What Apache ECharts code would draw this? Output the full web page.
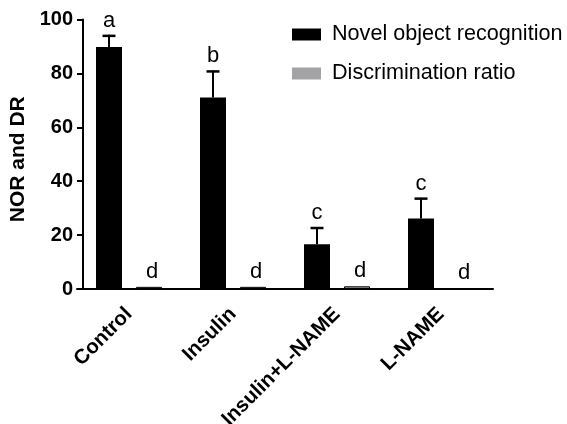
<!DOCTYPE html>
<html>
<head>
<meta charset="utf-8">
<script src="https://cdn.jsdelivr.net/npm/echarts@6/dist/echarts.min.js"></script>
<style>html,body{margin:0;padding:0;background:#fff}#c{width:567px;height:424px}</style>
</head>
<body>
<div id="c"></div>
<script>
var categories = ['Control', 'Insulin', 'Insulin+L-NAME', 'L-NAME'];
var norValues = [89.8, 71.1, 16.6, 26.2];
var norErrors = [4.5, 10, 6.4, 7.7];
var drValues = [0.8, 0.8, 1.0, 0.3];
var norLetters = ['a', 'b', 'c', 'c'];
var drLetters = ['d', 'd', 'd', 'd'];

var BAR_W = 26, GAP_PX = 14;
var FONT = 'Liberation Sans, Arial, sans-serif';

var chart = echarts.init(document.getElementById('c'), null, {renderer: 'canvas'});

function renderNor(params, api) {
  var i = api.value(0);
  var v = api.value(1), e = api.value(2);
  var off = -(BAR_W + GAP_PX) / 2;
  var top = api.coord([i, v + e]);
  var base = api.coord([i, v]);
  var x = top[0] + off;
  return {
    type: 'group',
    children: [
      {type: 'line', shape: {x1: x, y1: base[1], x2: x, y2: top[1]}, style: {stroke: '#000', lineWidth: 2}},
      {type: 'line', shape: {x1: x - 6.5, y1: top[1] + 1, x2: x + 6.5, y2: top[1] + 1}, style: {stroke: '#000', lineWidth: 2.5}},
      {type: 'text', x: x, y: top[1] - 3, style: {text: norLetters[params.dataIndex], fill: '#000', font: '22px ' + FONT, align: 'center', verticalAlign: 'bottom'}}
    ]
  };
}
function renderDr(params, api) {
  var i = api.value(0);
  var v = api.value(1);
  var off = (BAR_W + GAP_PX) / 2;
  var p = api.coord([i, v]);
  return {
    type: 'text', x: p[0] + off + 3, y: p[1] - 4,
    style: {text: drLetters[params.dataIndex], fill: '#000', font: '22px ' + FONT, align: 'center', verticalAlign: 'bottom'}
  };
}

chart.setOption({
  animation: false,
  backgroundColor: '#fff',
  grid: {left: 77, right: 74, top: 19.5, bottom: 135, containLabel: false, outerBoundsMode: 'none'},
  legend: {
    orient: 'vertical', left: 287, top: 18.5,
    itemWidth: 29, itemHeight: 12, itemGap: 17,
    textStyle: {fontFamily: FONT, fontSize: 21.6, color: '#000', padding: [0, 0, 0, 6]},
    data: [
      {name: 'Novel object recognition', icon: 'rect', itemStyle: {borderWidth: 0}},
      {name: 'Discrimination ratio', icon: 'rect', itemStyle: {borderWidth: 0, color: '#a3a3a6'}}
    ]
  },
  xAxis: {
    type: 'category', data: categories,
    axisLine: {lineStyle: {color: '#000', width: 2}},
    axisTick: {alignWithLabel: true, length: 6, lineStyle: {color: '#000', width: 2}},
    axisLabel: {rotate: 45, margin: 22, color: '#000', fontFamily: FONT, fontWeight: 'bold', fontSize: 20.5, interval: 0}
  },
  yAxis: {
    type: 'value', min: 0, max: 100, interval: 20, offset: -6,
    name: 'NOR and DR', nameLocation: 'middle', nameGap: 51,
    nameTextStyle: {color: '#000', fontFamily: FONT, fontWeight: 'bold', fontSize: 21, padding: [0, 10, 0, 0]},
    axisLine: {show: true, lineStyle: {color: '#000', width: 2}},
    axisTick: {show: true, length: 6, lineStyle: {color: '#000', width: 2}},
    axisLabel: {color: '#000', fontFamily: FONT, fontWeight: 'bold', fontSize: 20, margin: 10},
    splitLine: {show: false}
  },
  series: [
    {name: 'Novel object recognition', type: 'bar', data: norValues, barWidth: BAR_W, barGap: (GAP_PX / BAR_W * 100) + '%',
     itemStyle: {color: '#000'}},
    {name: 'Discrimination ratio', type: 'bar', data: drValues, barWidth: BAR_W,
     itemStyle: {color: '#a3a3a6', borderColor: '#000', borderWidth: 1}},
    {name: 'errN', type: 'custom', renderItem: renderNor, z: 5,
     data: norValues.map(function (v, i) { return [i, v, norErrors[i]]; })},
    {name: 'errD', type: 'custom', renderItem: renderDr, z: 5,
     data: drValues.map(function (v, i) { return [i, v]; })}
  ]
});
</script>
</body>
</html>
